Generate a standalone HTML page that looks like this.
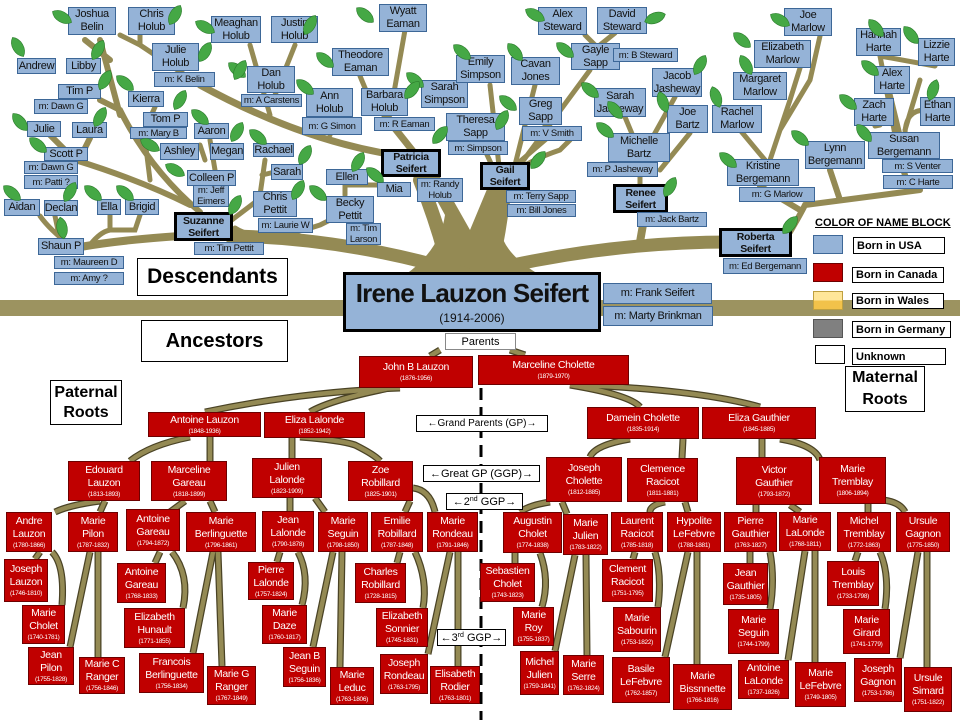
<!DOCTYPE html>
<html><head><meta charset="utf-8"><style>
*{margin:0;padding:0;box-sizing:border-box}
body{width:960px;height:720px;overflow:hidden;background:#fff;position:relative;font-family:"Liberation Sans",sans-serif}
.b,.r,.w{position:absolute;display:flex;align-items:center;justify-content:center;flex-direction:column;text-align:center;white-space:nowrap}
.b{background:#95b3d7;border:1px solid #3d6797;font-size:11px;line-height:13px;color:#111;letter-spacing:-0.3px}
.b.k{border:3px solid #000;font-weight:bold;font-size:10.5px;line-height:12px}
.b.m{font-size:9.5px;line-height:11px}
.r{background:#c00000;border:1px solid #6d0000;color:#fff;font-size:10.5px;line-height:13px;letter-spacing:-0.3px}
.r i{font-style:normal;font-size:6.5px;line-height:9px;display:block}
.w{background:#fff;border:1px solid #000;font-size:10px;color:#000}
sup{font-size:7px;line-height:0;vertical-align:4px}
svg{position:absolute;left:0;top:0}
</style></head><body>
<div style="position:absolute;left:0;top:300px;width:960px;height:16px;background:#9c9360"></div>
<svg width="960" height="720">
<path d="M405,275 Q440,250 445,215 L420,170 L435,168 L470,230 L495,170 L510,172 L500,230 Q505,255 540,275 Z" fill="#948a54"/>
<g fill="none" stroke="#948a54" stroke-linecap="round">
<path d="M470,275 Q350,238 230,236" stroke-width="13"/>
<path d="M180,236 Q120,240 80,247" stroke-width="8"/>
<path d="M470,275 Q600,242 730,242" stroke-width="13"/>
<path d="M640,242 L645,213" stroke-width="8"/>
<path d="M450,275 Q440,230 420,180" stroke-width="14"/>
<path d="M490,275 Q500,230 505,185" stroke-width="14"/>
<path d="M420,160 L385,116" stroke-width="7"/>
<path d="M390,115 L405,30" stroke-width="5"/>
<path d="M375,112 L360,76" stroke-width="5"/>
<path d="M395,155 Q300,140 200,85" stroke-width="7"/>
<path d="M330,135 L330,120" stroke-width="5"/>
<path d="M270,115 L250,45 M275,95 L295,45" stroke-width="5"/>
<path d="M200,85 L140,45 M140,45 L140,30 M140,45 L120,35" stroke-width="5"/>
<path d="M200,212 Q150,170 120,110 L100,100 M120,115 L100,40 M110,60 L85,40" stroke-width="6"/>
<path d="M190,205 Q140,180 75,160 L40,125 M80,158 L90,138" stroke-width="6"/>
<path d="M150,180 L145,140 L165,127 M140,140 L155,107" stroke-width="5"/>
<path d="M210,200 L215,186 M215,170 L210,140 M205,160 L200,145" stroke-width="5"/>
<path d="M225,225 Q245,210 258,200 M260,195 L265,160 M262,175 L275,172" stroke-width="5"/>
<path d="M235,228 Q260,245 320,225 L340,215 M345,195 L345,185 L380,185 L390,190" stroke-width="5"/>
<path d="M70,245 Q50,230 40,216 M60,240 L55,216 M90,245 Q100,232 110,230 L110,215 M110,230 L135,230 L140,215" stroke-width="5"/>
<path d="M500,185 Q490,160 480,140 M500,175 L490,85 M510,175 Q530,160 560,150 L570,140 M510,170 L545,140 L545,125 M515,165 L535,85 M520,165 L590,70 M595,45 L585,35 M600,45 L615,33" stroke-width="5"/>
<path d="M640,190 L640,160 M645,165 L625,117 M640,160 L675,97 M660,170 L690,133" stroke-width="5"/>
<path d="M790,232 Q800,215 805,205 Q860,198 920,190 M840,200 L830,170 M800,210 L760,186 M910,190 L900,160" stroke-width="6"/>
<path d="M765,160 L740,130 M770,160 L790,100 L800,68 M780,130 L810,80 L820,36" stroke-width="5"/>
<path d="M895,135 L880,56 L935,66 M900,135 L890,94 M880,125 L875,126 M905,135 Q905,110 925,110 M905,130 L920,80" stroke-width="5"/>
</g>
<defs><g id="c" fill="none">
<path d="M440,350 L430,356 M510,350 L525,355"/>
<path d="M400,388 Q300,392 205,412 M390,388 Q330,400 310,412"/>
<path d="M570,385 Q630,395 640,407 M580,385 Q700,390 760,407"/>
<path d="M190,437 Q150,445 130,461 M210,437 L210,461"/>
<path d="M292,437 L292,458 M300,437 Q340,440 355,445 Q375,455 380,461"/>
<path d="M100,501 Q70,505 55,512 M105,501 L100,512 M185,501 L170,512 M210,501 L215,512"/>
<path d="M290,498 L290,511 M315,498 L325,512 M410,501 L405,512 M413,488 Q430,490 435,512"/>
<path d="M40,552 L35,559 M52,552 Q65,565 62,605"/>
<path d="M90,552 L70,647 M98,552 L98,657"/>
<path d="M160,552 L155,563 M172,552 Q190,575 183,608"/>
<path d="M213,552 L193,653 M218,552 L222,666"/>
<path d="M280,552 L277,562 M298,552 Q310,575 302,605"/>
<path d="M333,552 L313,647 M342,552 L340,667"/>
<path d="M400,552 L397,563 M415,552 Q428,580 423,608"/>
<path d="M450,552 L428,654 M458,552 L458,666"/>
<path d="M630,439 Q595,445 590,457 M683,439 L682,458"/>
<path d="M762,439 L762,457 M780,439 Q815,445 820,460"/>
<path d="M550,502 Q530,505 520,512 M562,502 L567,514"/>
<path d="M665,502 Q650,505 650,512 M685,502 L688,512"/>
<path d="M756,505 L756,512 M790,505 L800,512"/>
<path d="M868,504 L868,512 M883,500 Q900,502 905,512"/>
<path d="M515,553 L515,563 M540,553 Q550,580 542,607"/>
<path d="M575,555 L555,651 M586,555 L587,655"/>
<path d="M635,552 L633,559 M655,552 Q662,575 658,607"/>
<path d="M688,552 L665,657 M697,552 L697,664"/>
<path d="M750,552 L750,563 M770,552 Q775,580 770,609"/>
<path d="M805,551 L788,660 M815,551 L815,662"/>
<path d="M858,552 L855,561 M880,552 Q890,575 885,609"/>
<path d="M918,552 L900,658 M927,552 L927,667"/>
</g></defs>
<use href="#c" stroke="#4a4325" stroke-width="7"/>
<use href="#c" stroke="#948a54" stroke-width="4.5"/>
<line x1="481" y1="388" x2="481" y2="720" stroke="#000" stroke-width="3" stroke-dasharray="12,7"/>
</svg>

<!-- descendants -->
<div class="b" style="left:68px;top:7px;width:48px;height:28px">Joshua<br>Belin</div>
<div class="b" style="left:128px;top:7px;width:47px;height:28px">Chris<br>Holub</div>
<div class="b" style="left:152px;top:43px;width:47px;height:28px">Julie<br>Holub</div>
<div class="b m" style="left:154px;top:72px;width:61px;height:15px">m: K Belin</div>
<div class="b" style="left:211px;top:16px;width:50px;height:27px">Meaghan<br>Holub</div>
<div class="b" style="left:271px;top:16px;width:47px;height:27px">Justin<br>Holub</div>
<div class="b" style="left:379px;top:4px;width:48px;height:28px">Wyatt<br>Eaman</div>
<div class="b" style="left:332px;top:48px;width:57px;height:28px">Theodore<br>Eaman</div>
<div class="b" style="left:17px;top:58px;width:39px;height:16px">Andrew</div>
<div class="b" style="left:66px;top:58px;width:35px;height:16px">Libby</div>
<div class="b" style="left:58px;top:84px;width:43px;height:15px">Tim P</div>
<div class="b m" style="left:34px;top:99px;width:54px;height:15px">m: Dawn G</div>
<div class="b" style="left:128px;top:91px;width:36px;height:16px">Kierra</div>
<div class="b" style="left:247px;top:66px;width:48px;height:27px">Dan<br>Holub</div>
<div class="b m" style="left:241px;top:94px;width:61px;height:13px">m: A Carstens</div>
<div class="b" style="left:306px;top:88px;width:47px;height:29px">Ann<br>Holub</div>
<div class="b m" style="left:302px;top:117px;width:60px;height:18px">m: G Simon</div>
<div class="b" style="left:361px;top:88px;width:47px;height:28px">Barbara<br>Holub</div>
<div class="b m" style="left:374px;top:117px;width:61px;height:14px">m: R Eaman</div>
<div class="b" style="left:421px;top:80px;width:47px;height:28px">Sarah<br>Simpson</div>
<div class="b" style="left:456px;top:55px;width:49px;height:28px">Emily<br>Simpson</div>
<div class="b" style="left:446px;top:113px;width:59px;height:28px">Theresa<br>Sapp</div>
<div class="b m" style="left:448px;top:141px;width:60px;height:14px">m: Simpson</div>
<div class="b" style="left:143px;top:112px;width:45px;height:15px">Tom P</div>
<div class="b m" style="left:130px;top:127px;width:57px;height:12px">m: Mary B</div>
<div class="b" style="left:27px;top:121px;width:34px;height:16px">Julie</div>
<div class="b" style="left:72px;top:122px;width:35px;height:16px">Laura</div>
<div class="b" style="left:44px;top:147px;width:44px;height:14px">Scott P</div>
<div class="b m" style="left:24px;top:161px;width:54px;height:13px">m: Dawn G</div>
<div class="b m" style="left:24px;top:175px;width:54px;height:14px">m: Patti ?</div>
<div class="b" style="left:4px;top:199px;width:36px;height:17px">Aidan</div>
<div class="b" style="left:44px;top:200px;width:34px;height:16px">Declan</div>
<div class="b" style="left:97px;top:199px;width:24px;height:16px">Ella</div>
<div class="b" style="left:125px;top:199px;width:34px;height:16px">Brigid</div>
<div class="b" style="left:38px;top:238px;width:46px;height:17px">Shaun P</div>
<div class="b m" style="left:54px;top:256px;width:70px;height:13px">m: Maureen D</div>
<div class="b m" style="left:54px;top:272px;width:70px;height:13px">m: Amy ?</div>
<div class="b" style="left:160px;top:143px;width:39px;height:17px">Ashley</div>
<div class="b" style="left:194px;top:123px;width:35px;height:16px">Aaron</div>
<div class="b" style="left:210px;top:143px;width:34px;height:17px">Megan</div>
<div class="b" style="left:253px;top:143px;width:41px;height:14px">Rachael</div>
<div class="b" style="left:187px;top:170px;width:49px;height:16px">Colleen P</div>
<div class="b m" style="left:193px;top:185px;width:36px;height:22px">m: Jeff<br>Eimers</div>
<div class="b" style="left:271px;top:164px;width:32px;height:16px">Sarah</div>
<div class="b" style="left:253px;top:191px;width:44px;height:26px">Chris<br>Pettit</div>
<div class="b m" style="left:258px;top:218px;width:55px;height:15px">m: Laurie W</div>
<div class="b" style="left:326px;top:169px;width:42px;height:16px">Ellen</div>
<div class="b" style="left:377px;top:182px;width:34px;height:15px">Mia</div>
<div class="b" style="left:326px;top:196px;width:48px;height:27px">Becky<br>Pettit</div>
<div class="b m" style="left:346px;top:223px;width:35px;height:22px">m: Tim<br>Larson</div>
<div class="b k" style="left:381px;top:149px;width:60px;height:28px">Patricia<br>Seifert</div>
<div class="b m" style="left:417px;top:178px;width:46px;height:24px">m: Randy<br>Holub</div>
<div class="b k" style="left:174px;top:212px;width:59px;height:29px">Suzanne<br>Seifert</div>
<div class="b m" style="left:194px;top:242px;width:70px;height:13px">m: Tim Pettit</div>

<div class="b" style="left:538px;top:7px;width:49px;height:28px">Alex<br>Steward</div>
<div class="b" style="left:597px;top:7px;width:50px;height:27px">David<br>Steward</div>
<div class="b" style="left:571px;top:43px;width:49px;height:27px">Gayle<br>Sapp</div>
<div class="b m" style="left:613px;top:48px;width:65px;height:14px">m: B Steward</div>
<div class="b" style="left:511px;top:57px;width:49px;height:28px">Cavan<br>Jones</div>
<div class="b" style="left:519px;top:97px;width:43px;height:28px">Greg<br>Sapp</div>
<div class="b m" style="left:522px;top:126px;width:60px;height:15px">m: V Smith</div>
<div class="b k" style="left:480px;top:162px;width:50px;height:28px">Gail<br>Seifert</div>
<div class="b m" style="left:506px;top:190px;width:70px;height:13px">m: Terry Sapp</div>
<div class="b m" style="left:507px;top:204px;width:69px;height:13px">m: Bill Jones</div>
<div class="b" style="left:594px;top:88px;width:52px;height:29px">Sarah<br>Jasheway</div>
<div class="b" style="left:652px;top:68px;width:50px;height:29px">Jacob<br>Jasheway</div>
<div class="b" style="left:667px;top:105px;width:41px;height:28px">Joe<br>Bartz</div>
<div class="b" style="left:608px;top:133px;width:62px;height:29px">Michelle<br>Bartz</div>
<div class="b m" style="left:587px;top:162px;width:71px;height:15px">m: P Jasheway</div>
<div class="b k" style="left:613px;top:184px;width:55px;height:29px">Renee<br>Seifert</div>
<div class="b m" style="left:637px;top:212px;width:70px;height:15px">m: Jack Bartz</div>
<div class="b" style="left:784px;top:8px;width:48px;height:28px">Joe<br>Marlow</div>
<div class="b" style="left:754px;top:40px;width:57px;height:28px">Elizabeth<br>Marlow</div>
<div class="b" style="left:733px;top:72px;width:54px;height:28px">Margaret<br>Marlow</div>
<div class="b" style="left:712px;top:105px;width:50px;height:28px">Rachel<br>Marlow</div>
<div class="b" style="left:727px;top:159px;width:72px;height:27px">Kristine<br>Bergemann</div>
<div class="b m" style="left:739px;top:187px;width:76px;height:15px">m: G Marlow</div>
<div class="b" style="left:805px;top:141px;width:60px;height:28px">Lynn<br>Bergemann</div>
<div class="b" style="left:868px;top:132px;width:72px;height:27px">Susan<br>Bergemann</div>
<div class="b m" style="left:882px;top:159px;width:71px;height:14px">m: S Venter</div>
<div class="b m" style="left:883px;top:175px;width:70px;height:14px">m: C Harte</div>
<div class="b" style="left:856px;top:28px;width:45px;height:28px">Hannah<br>Harte</div>
<div class="b" style="left:918px;top:38px;width:37px;height:28px">Lizzie<br>Harte</div>
<div class="b" style="left:874px;top:66px;width:36px;height:28px">Alex<br>Harte</div>
<div class="b" style="left:854px;top:98px;width:40px;height:28px">Zach<br>Harte</div>
<div class="b" style="left:920px;top:97px;width:35px;height:29px">Ethan<br>Harte</div>
<div class="b k" style="left:719px;top:228px;width:73px;height:29px">Roberta<br>Seifert</div>
<div class="b m" style="left:723px;top:258px;width:84px;height:16px">m: Ed Bergemann</div>

<!-- leaves -->
<svg width="960" height="300">
<defs><path id="lf" d="M-11,0 C-6,-7 6,-7 11,0 C6,7 -6,7 -11,0Z" fill="#45a845" stroke="#2a7a2a" stroke-width="0.6"/></defs>
<g>
<use href="#lf" transform="translate(62,17) rotate(30)"/><use href="#lf" transform="translate(175,15) rotate(-60)"/>
<use href="#lf" transform="translate(18,47) rotate(60)"/><use href="#lf" transform="translate(98,50) rotate(-60)"/>
<use href="#lf" transform="translate(205,52) rotate(-60)"/><use href="#lf" transform="translate(205,27) rotate(30)"/>
<use href="#lf" transform="translate(237,70) rotate(40)"/><use href="#lf" transform="translate(105,80) rotate(-60)"/>
<use href="#lf" transform="translate(125,83) rotate(40)"/><use href="#lf" transform="translate(180,100) rotate(-60)"/>
<use href="#lf" transform="translate(200,117) rotate(40)"/><use href="#lf" transform="translate(20,122) rotate(50)"/>
<use href="#lf" transform="translate(100,117) rotate(-60)"/><use href="#lf" transform="translate(38,145) rotate(40)"/>
<use href="#lf" transform="translate(150,145) rotate(30)"/><use href="#lf" transform="translate(237,132) rotate(-60)"/>
<use href="#lf" transform="translate(258,137) rotate(40)"/><use href="#lf" transform="translate(175,170) rotate(30)"/>
<use href="#lf" transform="translate(12,193) rotate(40)"/><use href="#lf" transform="translate(70,192) rotate(-60)"/>
<use href="#lf" transform="translate(93,193) rotate(40)"/><use href="#lf" transform="translate(125,193) rotate(40)"/>
<use href="#lf" transform="translate(62,228) rotate(80)"/><use href="#lf" transform="translate(235,205) rotate(-60)"/>
<use href="#lf" transform="translate(305,155) rotate(-60)"/><use href="#lf" transform="translate(298,190) rotate(-60)"/>
<use href="#lf" transform="translate(318,193) rotate(40)"/><use href="#lf" transform="translate(305,87) rotate(40)"/>
<use href="#lf" transform="translate(325,60) rotate(40)"/><use href="#lf" transform="translate(365,15) rotate(40)"/>
<use href="#lf" transform="translate(415,80) rotate(40)"/><use href="#lf" transform="translate(412,90) rotate(-50)"/>
<use href="#lf" transform="translate(462,52) rotate(40)"/><use href="#lf" transform="translate(440,135) rotate(-50)"/>
<use href="#lf" transform="translate(358,162) rotate(-60)"/><use href="#lf" transform="translate(375,175) rotate(40)"/>
<use href="#lf" transform="translate(240,70) rotate(-60)"/><use href="#lf" transform="translate(310,25) rotate(-60)"/>
<use href="#lf" transform="translate(535,15) rotate(30)"/><use href="#lf" transform="translate(655,18) rotate(-20)"/>
<use href="#lf" transform="translate(515,52) rotate(50)"/><use href="#lf" transform="translate(565,50) rotate(40)"/>
<use href="#lf" transform="translate(590,90) rotate(40)"/><use href="#lf" transform="translate(700,65) rotate(-60)"/>
<use href="#lf" transform="translate(508,103) rotate(40)"/><use href="#lf" transform="translate(663,102) rotate(70)"/>
<use href="#lf" transform="translate(716,97) rotate(70)"/><use href="#lf" transform="translate(746,65) rotate(60)"/>
<use href="#lf" transform="translate(742,40) rotate(40)"/><use href="#lf" transform="translate(780,20) rotate(30)"/>
<use href="#lf" transform="translate(876,28) rotate(50)"/><use href="#lf" transform="translate(911,35) rotate(50)"/>
<use href="#lf" transform="translate(933,90) rotate(-70)"/><use href="#lf" transform="translate(870,68) rotate(40)"/>
<use href="#lf" transform="translate(848,102) rotate(40)"/><use href="#lf" transform="translate(864,133) rotate(50)"/>
<use href="#lf" transform="translate(800,138) rotate(40)"/><use href="#lf" transform="translate(728,160) rotate(40)"/>
<use href="#lf" transform="translate(538,160) rotate(-50)"/><use href="#lf" transform="translate(502,120) rotate(-60)"/>
<use href="#lf" transform="translate(670,187) rotate(-60)"/><use href="#lf" transform="translate(790,225) rotate(-50)"/>
<use href="#lf" transform="translate(615,110) rotate(50)"/><use href="#lf" transform="translate(605,130) rotate(40)"/>
</g></svg>

<!-- center -->
<div class="w" style="left:137px;top:258px;width:151px;height:38px;font-size:21px;font-weight:bold">Descendants</div>
<div class="b" style="left:343px;top:272px;width:258px;height:60px;border:3px solid #000;font-size:26px;line-height:31px;font-weight:bold;letter-spacing:-0.8px">Irene Lauzon Seifert<span style="font-size:12px;font-weight:normal;line-height:18px;letter-spacing:0">(1914-2006)</span></div>
<div class="b" style="left:603px;top:283px;width:109px;height:21px;font-size:11px">m: Frank Seifert</div>
<div class="b" style="left:603px;top:306px;width:110px;height:20px;font-size:11px">m: Marty Brinkman</div>
<div class="w" style="left:141px;top:320px;width:147px;height:42px;font-size:20px;font-weight:bold">Ancestors</div>
<div class="w" style="left:445px;top:333px;width:71px;height:17px;font-size:11px;border-color:#888">Parents</div>
<div class="w" style="left:50px;top:380px;width:72px;height:45px;font-size:16px;font-weight:bold;line-height:20px">Paternal<br>Roots</div>
<div class="w" style="left:845px;top:366px;width:80px;height:46px;font-size:16px;font-weight:bold;line-height:22px">Maternal<br>Roots</div>

<!-- legend -->
<div style="position:absolute;left:815px;top:217px;font-size:11px;font-weight:bold;text-decoration:underline;white-space:nowrap">COLOR OF NAME BLOCK</div>
<div style="position:absolute;left:813px;top:235px;width:30px;height:19px;background:#95b3d7;border:1px solid #3d6797"></div>
<div class="w" style="left:853px;top:237px;width:92px;height:17px;font-size:11px;font-weight:bold;align-items:flex-start;padding-left:3px">Born in USA</div>
<div style="position:absolute;left:813px;top:263px;width:30px;height:19px;background:#c00000;border:1px solid #6d0000"></div>
<div class="w" style="left:852px;top:267px;width:92px;height:16px;font-size:11px;font-weight:bold;align-items:flex-start;padding-left:3px">Born in Canada</div>
<div style="position:absolute;left:813px;top:291px;width:30px;height:19px;background:linear-gradient(#ffe699 50%,#f2c24a 50%);border:1px solid #bfa040"></div>
<div class="w" style="left:852px;top:293px;width:92px;height:16px;font-size:11px;font-weight:bold;align-items:flex-start;padding-left:3px">Born in Wales</div>
<div style="position:absolute;left:813px;top:319px;width:30px;height:19px;background:#808080;border:1px solid #555"></div>
<div class="w" style="left:852px;top:321px;width:99px;height:17px;font-size:11px;font-weight:bold;align-items:flex-start;padding-left:3px">Born in Germany</div>
<div style="position:absolute;left:815px;top:345px;width:30px;height:19px;background:#fff;border:1px solid #000"></div>
<div class="w" style="left:852px;top:348px;width:94px;height:17px;font-size:11px;font-weight:bold;align-items:flex-start;padding-left:3px">Unknown</div>

<!-- gen labels -->
<div class="w" style="left:416px;top:415px;width:132px;height:17px"><span>←Grand Parents (GP)→</span></div>
<div class="w" style="left:423px;top:465px;width:117px;height:17px;font-size:11px"><span>←Great GP (GGP)→</span></div>
<div class="w" style="left:446px;top:493px;width:77px;height:17px;font-size:11px"><span>←2<sup>nd</sup> GGP→</span></div>
<div class="w" style="left:437px;top:629px;width:69px;height:17px;font-size:11px"><span>←3<sup>rd</sup> GGP→</span></div>

<!-- ancestors -->
<div class="r" style="left:359px;top:356px;width:114px;height:32px">John B Lauzon<i>(1876-1956)</i></div>
<div class="r" style="left:478px;top:355px;width:151px;height:30px">Marceline Cholette<i>(1879-1970)</i></div>
<div class="r" style="left:148px;top:412px;width:113px;height:25px">Antoine Lauzon<i>(1848-1936)</i></div>
<div class="r" style="left:264px;top:412px;width:101px;height:26px">Eliza Lalonde<i>(1852-1942)</i></div>
<div class="r" style="left:587px;top:407px;width:112px;height:32px">Damein Cholette<i>(1835-1914)</i></div>
<div class="r" style="left:702px;top:407px;width:114px;height:32px">Eliza Gauthier<i>(1845-1885)</i></div>
<div class="r" style="left:68px;top:461px;width:72px;height:40px">Edouard<br>Lauzon<i>(1813-1893)</i></div>
<div class="r" style="left:151px;top:461px;width:76px;height:40px">Marceline<br>Gareau<i>(1818-1899)</i></div>
<div class="r" style="left:252px;top:458px;width:70px;height:40px">Julien<br>Lalonde<i>(1823-1909)</i></div>
<div class="r" style="left:348px;top:461px;width:65px;height:40px">Zoe<br>Robillard<i>(1825-1901)</i></div>
<div class="r" style="left:546px;top:457px;width:76px;height:45px">Joseph<br>Cholette<i>(1812-1885)</i></div>
<div class="r" style="left:627px;top:458px;width:71px;height:44px">Clemence<br>Racicot<i>(1811-1881)</i></div>
<div class="r" style="left:736px;top:457px;width:76px;height:48px">Victor<br>Gauthier<i>(1793-1872)</i></div>
<div class="r" style="left:819px;top:457px;width:67px;height:47px">Marie<br>Tremblay<i>(1806-1894)</i></div>

<div class="r" style="left:6px;top:512px;width:46px;height:40px">Andre<br>Lauzon<i>(1780-1866)</i></div>
<div class="r" style="left:68px;top:512px;width:50px;height:40px">Marie<br>Pilon<i>(1787-1832)</i></div>
<div class="r" style="left:126px;top:509px;width:54px;height:42px">Antoine<br>Gareau<i>(1794-1872)</i></div>
<div class="r" style="left:186px;top:512px;width:70px;height:40px">Marie<br>Berlinguette<i>(1796-1861)</i></div>
<div class="r" style="left:262px;top:511px;width:52px;height:41px">Jean<br>Lalonde<i>(1790-1878)</i></div>
<div class="r" style="left:318px;top:512px;width:50px;height:40px">Marie<br>Seguin<i>(1798-1850)</i></div>
<div class="r" style="left:371px;top:512px;width:52px;height:40px">Emilie<br>Robillard<i>(1787-1848)</i></div>
<div class="r" style="left:427px;top:512px;width:51px;height:40px">Marie<br>Rondeau<i>(1791-1846)</i></div>
<div class="r" style="left:503px;top:512px;width:59px;height:41px">Augustin<br>Cholet<i>(1774-1838)</i></div>
<div class="r" style="left:563px;top:514px;width:45px;height:41px">Marie<br>Julien<i>(1783-1822)</i></div>
<div class="r" style="left:611px;top:512px;width:52px;height:40px">Laurent<br>Racicot<i>(1785-1818)</i></div>
<div class="r" style="left:667px;top:512px;width:54px;height:40px">Hypolite<br>LeFebvre<i>(1788-1881)</i></div>
<div class="r" style="left:724px;top:512px;width:53px;height:40px">Pierre<br>Gauthier<i>(1763-1827)</i></div>
<div class="r" style="left:779px;top:512px;width:52px;height:39px">Marie<br>LaLonde<i>(1768-1811)</i></div>
<div class="r" style="left:837px;top:512px;width:54px;height:40px">Michel<br>Tremblay<i>(1772-1863)</i></div>
<div class="r" style="left:896px;top:512px;width:54px;height:40px">Ursule<br>Gagnon<i>(1775-1850)</i></div>

<div class="r" style="left:4px;top:559px;width:44px;height:43px">Joseph<br>Lauzon<i>(1746-1810)</i></div>
<div class="r" style="left:22px;top:605px;width:43px;height:39px">Marie<br>Cholet<i>(1740-1781)</i></div>
<div class="r" style="left:28px;top:647px;width:46px;height:38px">Jean<br>Pilon<i>(1755-1828)</i></div>
<div class="r" style="left:79px;top:657px;width:46px;height:37px">Marie C<br>Ranger<i>(1756-1846)</i></div>
<div class="r" style="left:117px;top:563px;width:49px;height:40px">Antoine<br>Gareau<i>(1768-1833)</i></div>
<div class="r" style="left:124px;top:608px;width:61px;height:40px">Elizabeth<br>Hunault<i>(1771-1855)</i></div>
<div class="r" style="left:139px;top:653px;width:65px;height:40px">Francois<br>Berlinguette<i>(1756-1834)</i></div>
<div class="r" style="left:207px;top:666px;width:49px;height:39px">Marie G<br>Ranger<i>(1767-1849)</i></div>
<div class="r" style="left:248px;top:562px;width:46px;height:38px">Pierre<br>Lalonde<i>(1757-1824)</i></div>
<div class="r" style="left:262px;top:605px;width:45px;height:39px">Marie<br>Daze<i>(1760-1817)</i></div>
<div class="r" style="left:283px;top:647px;width:43px;height:40px">Jean B<br>Seguin<i>(1756-1836)</i></div>
<div class="r" style="left:330px;top:667px;width:44px;height:38px">Marie<br>Leduc<i>(1763-1806)</i></div>
<div class="r" style="left:355px;top:563px;width:51px;height:40px">Charles<br>Robillard<i>(1728-1815)</i></div>
<div class="r" style="left:376px;top:608px;width:52px;height:39px">Elizabeth<br>Sonnier<i>(1745-1831)</i></div>
<div class="r" style="left:380px;top:654px;width:48px;height:40px">Joseph<br>Rondeau<i>(1763-1795)</i></div>
<div class="r" style="left:430px;top:666px;width:50px;height:38px">Elisabeth<br>Rodier<i>(1763-1801)</i></div>
<div class="r" style="left:480px;top:563px;width:55px;height:39px">Sebastien<br>Cholet<i>(1743-1823)</i></div>
<div class="r" style="left:513px;top:607px;width:41px;height:39px">Marie<br>Roy<i>(1755-1837)</i></div>
<div class="r" style="left:520px;top:651px;width:39px;height:44px">Michel<br>Julien<i>(1759-1841)</i></div>
<div class="r" style="left:563px;top:655px;width:41px;height:40px">Marie<br>Serre<i>(1762-1824)</i></div>
<div class="r" style="left:602px;top:559px;width:51px;height:43px">Clement<br>Racicot<i>(1751-1795)</i></div>
<div class="r" style="left:613px;top:607px;width:48px;height:45px">Marie<br>Sabourin<i>(1753-1822)</i></div>
<div class="r" style="left:612px;top:657px;width:58px;height:46px">Basile<br>LeFebvre<i>(1762-1857)</i></div>
<div class="r" style="left:673px;top:664px;width:59px;height:46px">Marie<br>Bissnnette<i>(1766-1816)</i></div>
<div class="r" style="left:723px;top:563px;width:45px;height:42px">Jean<br>Gauthier<i>(1735-1805)</i></div>
<div class="r" style="left:728px;top:609px;width:51px;height:45px">Marie<br>Seguin<i>(1744-1799)</i></div>
<div class="r" style="left:738px;top:660px;width:51px;height:39px">Antoine<br>LaLonde<i>(1737-1826)</i></div>
<div class="r" style="left:795px;top:662px;width:51px;height:45px">Marie<br>LeFebvre<i>(1749-1805)</i></div>
<div class="r" style="left:827px;top:561px;width:52px;height:45px">Louis<br>Tremblay<i>(1733-1798)</i></div>
<div class="r" style="left:843px;top:609px;width:47px;height:45px">Marie<br>Girard<i>(1741-1779)</i></div>
<div class="r" style="left:854px;top:658px;width:48px;height:44px">Joseph<br>Gagnon<i>(1753-1786)</i></div>
<div class="r" style="left:904px;top:667px;width:48px;height:45px">Ursule<br>Simard<i>(1751-1822)</i></div>
</body></html>
